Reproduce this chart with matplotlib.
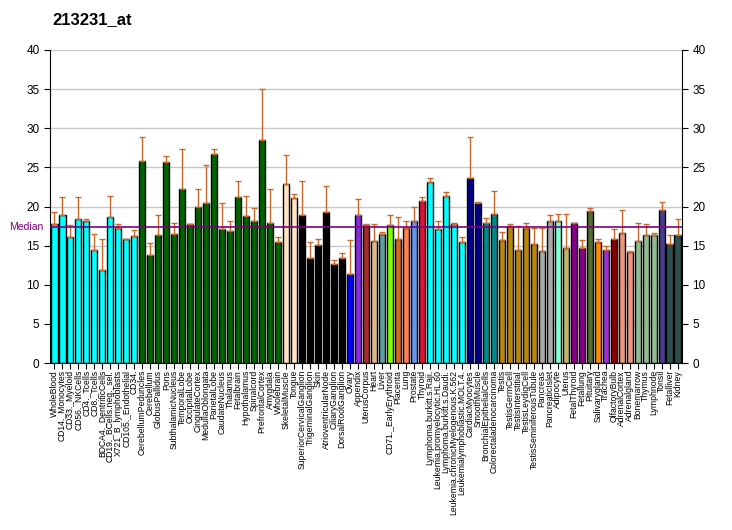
import matplotlib
matplotlib.use("Agg")
import matplotlib.pyplot as plt
import numpy as np

TITLE = "213231_at"

tissues = [
    "WholeBlood", "CD14._Monocytes", "CD33._Myeloid", "CD56._NKCells", "CD4._Tcells",
    "CD8._Tcells", "BDCA4._DentriticCells", "CD19._BCells.neg._sel.", "X721_B_lymphoblasts",
    "CD105._Endothelial", "CD34.", "CerebellumPeduncles", "Cerebellum", "GlobusPallidus",
    "Pons", "SubthalamicNucleus", "TemporalLobe", "OccipitalLobe", "CingulateCortex",
    "MedullaOblongata", "ParietalLobe", "CaudateNucleus", "Thalamus", "Fetalbrain",
    "Hypothalamus", "Spinalcord", "PrefrontalCortex", "Amygdala", "Wholebrain",
    "SkeletalMuscle", "Tongue", "SuperiorCervicalGanglion", "TrigeminalGanglion", "Skin",
    "AtrioventricularNode", "CiliaryGanglion", "DorsalRootGanglion", "Ovary", "Appendix",
    "UterusCorpus", "Heart", "Liver", "CD71._EarlyErythroid", "Placenta", "Lung",
    "Prostate", "Thyroid", "Lymphoma.burkitt.s.Raji.", "Leukemia.promyelocytic.HL.60",
    "Lymphoma.burkitt.s.Daudi.", "Leukemia.chronicMyelogenous.K.562",
    "Leukemialymphoblastic.MOLT.4.", "CardiacMyocytes", "SmoothMuscle",
    "BronchialEpithelialCells", "Colorectaladenocarcinoma", "Testis", "TestisGermCell",
    "TestisInterstitial", "TestisLeydigCell", "TestisSeminiferousTubule", "Pancreas",
    "PancreaticIslet", "Adipocyte", "Uterus", "FetalThyroid", "Fetallung", "Pituitary",
    "Salivarygland", "Trachea", "OlfactoryBulb", "AdrenalCortex", "Adrenalgland",
    "Bonemarrow", "Thymus", "Lymphnode", "Tonsil", "Fetalliver", "Kidney",
]

values = [
    17.7, 18.9, 16.1, 18.4, 18.1, 14.4, 11.9, 18.6, 17.3, 15.8, 16.2,
    25.8, 13.8, 16.4, 25.7, 16.5, 22.2, 17.7, 20.0, 20.4, 26.7, 17.1,
    16.9, 21.2, 18.8, 18.2, 28.5, 17.9, 15.5, 22.9, 21.1, 18.9, 13.4,
    15.1, 19.3, 12.7, 13.4, 11.4, 18.9, 17.6, 15.6, 16.5, 17.6, 15.9,
    17.3, 18.2, 20.7, 23.1, 17.1, 21.4, 17.7, 15.4, 23.7, 20.4, 17.9,
    19.1, 15.7, 17.5, 14.5, 17.3, 15.2, 14.3, 18.2, 18.2, 14.7, 17.9,
    14.7, 19.4, 15.4, 14.5, 15.8, 16.6, 14.2, 15.6, 16.3, 16.3, 19.5,
    15.2, 16.3,
]

upper = [
    19.3, 21.2, 17.6, 21.2, 18.4, 16.5, 15.8, 21.4, 17.7, 15.9, 17.0,
    28.9, 15.3, 18.9, 26.4, 17.9, 27.3, 17.7, 22.2, 25.3, 27.3, 20.4,
    18.1, 23.3, 21.3, 19.8, 35.0, 22.3, 16.1, 26.6, 21.6, 23.3, 15.4,
    15.9, 22.6, 13.1, 14.0, 15.7, 21.0, 17.7, 17.7, 16.7, 18.9, 18.6,
    18.1, 20.0, 21.2, 23.6, 18.1, 21.8, 17.9, 16.1, 28.9, 20.6, 18.5,
    22.0, 16.8, 17.7, 17.5, 17.9, 17.3, 17.3, 18.9, 19.0, 19.0, 17.9,
    15.7, 19.8, 15.8, 14.9, 17.1, 19.5, 14.3, 17.9, 17.7, 16.6, 20.6,
    16.3, 18.4,
]

# colour group sizes, in order
group_colors = [
    ("#00FFFF", 11), ("#006400", 18), ("#FFE4C4", 2), ("#000000", 6),
    ("#0000FF", 1), ("#8A2BE2", 1), ("#A52A2A", 1), ("#DEB887", 1),
    ("#5F9EA0", 1), ("#7FFF00", 1), ("#D2691E", 1), ("#FF7F50", 1),
    ("#6495ED", 1), ("#DC143C", 1), ("#00FFFF", 5), ("#00008B", 2),
    ("#008B8B", 2), ("#B8860B", 5), ("#A9A9A9", 2), ("#7FFFD4", 1),
    ("#BDB76B", 1), ("#8B008B", 2), ("#556B2F", 1), ("#FF8C00", 1),
    ("#9932CC", 1), ("#8B0000", 1), ("#E9967A", 2), ("#8FBC8F", 3),
    ("#483D8B", 1), ("#2F4F4F", 2),
]

median_value = 17.35

colors = []
for c, n in group_colors:
    colors += [c] * n

plt.rcParams["font.family"] = ["Liberation Sans", "DejaVu Sans"]

fig = plt.figure(figsize=(7.32, 5.30), dpi=100)
ax = fig.add_axes([50 / 732, 1 - 363 / 530, 632 / 732, 313 / 530])

x = np.arange(len(values))
vals = np.array(values)
err = np.array(upper) - vals

ax.set_axisbelow(True)
ax.yaxis.grid(True, color="#c8c8c8", linewidth=1)
ax.bar(x, vals, width=0.78, color=colors, edgecolor="black", linewidth=1, zorder=2)
ax.errorbar(x, vals, yerr=[np.zeros_like(err), err], fmt="none",
            ecolor="#C8692E", elinewidth=1, capsize=2.5, capthick=1, zorder=3)

ax.axhline(median_value, color="#800080", linewidth=1.2, zorder=4)
ax.text(-0.01, median_value, "Median", transform=ax.get_yaxis_transform(),
        color="#800080", fontsize=7.5, ha="right", va="center")

ax.set_xlim(-0.55, len(values) - 0.45)
ax.set_ylim(0, 40)
ax.set_yticks(range(0, 41, 5))
ax.tick_params(axis="y", labelsize=8.5, length=4, right=True, labelright=True)
ax.set_xticks(x)
ax.set_xticklabels(tissues, rotation=90, fontsize=6.2)
ax.tick_params(axis="x", length=4, pad=1)
ax.spines["top"].set_visible(False)

fig.text(52 / 732, 1 - 20 / 530, TITLE, fontsize=12, fontweight="bold", va="center")

fig.savefig("out.png", dpi=100)
